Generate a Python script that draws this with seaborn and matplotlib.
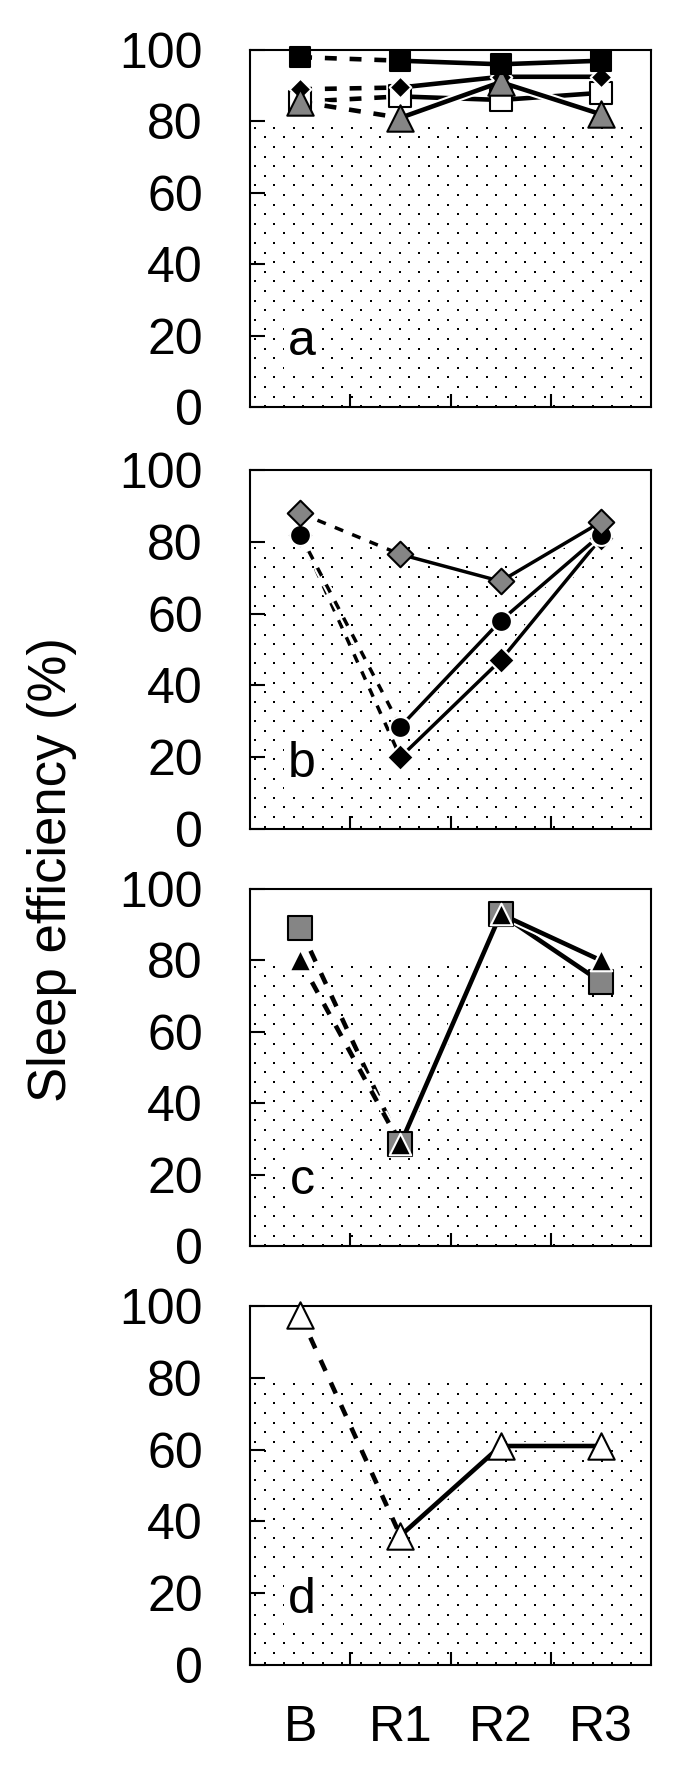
import numpy as np
import pandas as pd
import matplotlib
matplotlib.use("Agg")
import matplotlib.pyplot as plt
import matplotlib.patheffects as pe
import seaborn as sns

sns.set_style("white")
plt.rcParams['font.family'] = ['Liberation Sans', 'DejaVu Sans']
plt.rcParams['text.color'] = 'black'
plt.rcParams['xtick.color'] = 'black'
plt.rcParams['ytick.color'] = 'black'
plt.rcParams['axes.labelcolor'] = 'black'

# ---------------- data ----------------
categories = ["B", "R1", "R2", "R3"]
y_ticks = [0, 20, 40, 60, 80, 100]
panel_letters = ["a", "b", "c", "d"]

# panel a
a_black_square = [98, 97, 96, 97]
a_black_diamond = [89, 89.5, 92.5, 92.5]
a_white_square = [85.5, 87, 86, 88]
a_gray_triangle = [85.5, 81, 91, 82]
# panel b
b_gray_diamond = [88, 76.5, 69, 85.5]
b_black_diamond = [82, 20, 47, 81]
b_black_circle = [82, 28.5, 58, 82]
# panel c
c_gray_square = [89, 28.5, 93, 74]
c_black_triangle = [80, 28.5, 93, 80]
# panel d
d_white_triangle = [97.5, 36, 61, 61]

normal_limit = 80  # stippled zone below this value

GRAY = "#858585"

# series spec: (values, marker, size(pt), facecolor, edgecolor)
panels = [
    [(a_white_square, "s", 16.5, "white", "black"),
     (a_black_diamond, "D", 11, "black", "white"),
     (a_gray_triangle, "^", 19, GRAY, "black"),
     (a_black_square, "s", 15, "black", "black")],
    [(b_black_diamond, "D", 13.5, "black", "white"),
     (b_black_circle, "o", 15, "black", "white"),
     (b_gray_diamond, "D", 13, GRAY, "black")],
    [(c_gray_square, "s", 17.5, GRAY, "black"),
     (c_black_triangle, "^", 15.5, "black", "white")],
    [(d_white_triangle, "^", 19, "white", "black")],
]
line_w = [3.3, 2.5, 3.3, 3.3]

W, H = 685, 1778
fig = plt.figure(figsize=(W / 100, H / 100), dpi=100)

left_px, right_px = 250, 651
panel_px = [(50, 407), (470, 829), (889, 1246), (1306, 1665)]

xpos = np.arange(len(categories))

for i, (top, bot) in enumerate(panel_px):
    ax = fig.add_axes([left_px / W, 1 - bot / H, (right_px - left_px) / W, (bot - top) / H])
    ax.set_xlim(-0.5, len(categories) - 0.5)
    ax.set_ylim(0, 100)

    # stipple texture below the normal limit
    dy = 9.6 / ((bot - top) / 100.0)
    dx = 19.3 / ((right_px - left_px) / 4.0)
    rows = np.arange(normal_limit - 1.8, 0, -dy)
    sx, sy = [], []
    for k, yy in enumerate(rows):
        off = 0.0 if k % 2 == 0 else dx / 2
        xs = np.arange(-0.5 + 0.05 + off, 3.5 - 0.02, dx)
        sx.extend(xs)
        sy.extend([yy] * len(xs))
    ax.scatter(sx, sy, s=4.2, marker="s", color="black", linewidths=0, zorder=0.5)

    lw = line_w[i]
    halo = [pe.Stroke(linewidth=lw + 3, foreground="white"), pe.Normal()]
    for j, (vals, mk, ms, fc, ec) in enumerate(panels[i]):
        df = pd.DataFrame({"x": xpos, "y": vals})
        sns.lineplot(data=df.iloc[:2], x="x", y="y", ax=ax, color="black", lw=lw,
                     linestyle=(0, (2.6, 2.8)), estimator=None, sort=False,
                     zorder=2 + j * 0.1, path_effects=halo)
        sns.lineplot(data=df.iloc[1:], x="x", y="y", ax=ax, color="black", lw=lw,
                     estimator=None, sort=False, zorder=2 + j * 0.1,
                     path_effects=halo)
    for j, (vals, mk, ms, fc, ec) in enumerate(panels[i]):
        df = pd.DataFrame({"x": xpos, "y": vals})
        sns.scatterplot(data=df, x="x", y="y", ax=ax, marker=mk, s=ms ** 2,
                        color=fc, edgecolor=ec, linewidth=1.5, zorder=4 + j * 0.1,
                        clip_on=False)

    ax.text(0.02, 14.5, panel_letters[i], ha="center", va="baseline", fontsize=36,
            zorder=6, bbox=dict(facecolor="white", edgecolor="none", pad=3))

    ax.set_yticks(y_ticks)
    ax.set_yticklabels([str(v) for v in y_ticks])
    ax.tick_params(axis="y", direction="in", length=11, width=1.5, pad=34,
                   labelsize=36, left=True, right=False)
    ax.set_xticks(xpos)
    ax.set_xticks(xpos[:-1] + 0.5, minor=True)
    ax.tick_params(axis="x", which="major", length=0, pad=29, labelsize=36)
    ax.tick_params(axis="x", which="minor", direction="in", length=9.5, width=1.5,
                   bottom=True)
    if i == len(panel_px) - 1:
        ax.set_xticklabels(categories)
    else:
        ax.set_xticklabels([])
    ax.set_xlabel("")
    ax.set_ylabel("")
    for sp in ax.spines.values():
        sp.set_visible(True)
        sp.set_linewidth(1.5)
        sp.set_color("black")
        sp.set_zorder(3)

fig.text(52 / W, 1 - 870 / H, "Sleep efficiency (%)", rotation=90, ha="center",
         va="center", fontsize=38)

fig.savefig("out.png", dpi=100)
